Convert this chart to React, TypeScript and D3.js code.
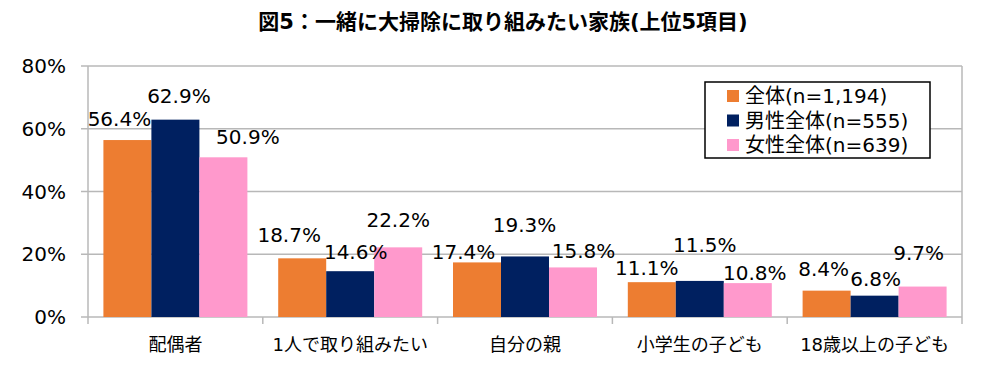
import React from "react";
import * as d3 from "d3";

const title = "図5：一緒に大掃除に取り組みたい家族(上位5項目)";
const categories = ["配偶者", "1人で取り組みたい", "自分の親", "小学生の子ども", "18歳以上の子ども"];
const seriesNames = ["全体(n=1,194)", "男性全体(n=555)", "女性全体(n=639)"];
const seriesColors = ["#ED7D31", "#002060", "#FF99CC"];
const totalValues = [56.4, 18.7, 17.4, 11.1, 8.4];
const maleValues = [62.9, 14.6, 19.3, 11.5, 6.8];
const femaleValues = [50.9, 22.2, 15.8, 10.8, 9.7];
const yTicks = [0, 20, 40, 60, 80];

// hand-placed data labels in the original: [dx from bar centre, baseline above bar top]
const labelNudge = [
  [[-8, -14], [3.5, -17], [24.5, -13]],
  [[-13, -16], [5.5, -12], [0, -20]],
  [[-13.5, -3], [-0.5, -24], [10.5, -9]],
  [[-5, -7], [5, -29], [7, -3]],
  [[-3, -15], [1, -10], [-4, -27]],
];

const W = 1004;
const H = 365;
const margin = { top: 66, right: 42, bottom: 48, left: 88 };
const FONT = '"DejaVu Sans", "Noto Sans CJK JP", sans-serif';
const GRID = "#b8b8b8";

export default function App() {
  const series = [totalValues, maleValues, femaleValues];
  const plotW = W - margin.left - margin.right;
  const plotBottom = H - margin.bottom;

  const x0 = d3
    .scaleBand<string>()
    .domain(categories)
    .range([margin.left, margin.left + plotW]);

  const x1 = d3
    .scaleBand<number>()
    .domain([0, 1, 2])
    .range([0, x0.bandwidth()])
    .paddingInner(0)
    .paddingOuter(0.321);

  const y = d3.scaleLinear().domain([0, 80]).range([plotBottom, margin.top]);

  return (
    <svg
      width={W}
      height={H}
      style={{ position: "absolute", left: 0, top: 0, background: "#fff" }}
      fontFamily={FONT}
    >
      <text
        x={503}
        y={29}
        textAnchor="middle"
        fontSize={21}
        fontWeight="bold"
        fill="#000"
      >
        {title}
      </text>

      {/* gridlines + y ticks */}
      {yTicks.map((t) => (
        <g key={t}>
          <line
            x1={margin.left - 7}
            x2={margin.left + plotW}
            y1={y(t)}
            y2={y(t)}
            stroke={GRID}
            strokeWidth={1.5}
          />
          <text
            x={66}
            y={y(t)}
            dy="0.36em"
            textAnchor="end"
            fontSize={20}
            fill="#000"
          >
            {t}%
          </text>
        </g>
      ))}

      {/* plot edges */}
      <line x1={margin.left} x2={margin.left} y1={y(80)} y2={plotBottom} stroke={GRID} strokeWidth={1.5} />
      <line
        x1={margin.left + plotW}
        x2={margin.left + plotW}
        y1={y(80)}
        y2={plotBottom}
        stroke={GRID}
        strokeWidth={1.5}
      />

      {/* category ticks */}
      {d3.range(categories.length + 1).map((i) => {
        const xx = margin.left + i * x0.step();
        return (
          <line key={i} x1={xx} x2={xx} y1={plotBottom} y2={plotBottom + 7} stroke={GRID} strokeWidth={1.5} />
        );
      })}

      {/* bars */}
      {categories.map((c, ci) => (
        <g key={c} transform={`translate(${x0(c)},0)`}>
          {series.map((vals, si) => (
            <rect
              key={si}
              x={x1(si)}
              y={y(vals[ci])}
              width={x1.bandwidth()}
              height={plotBottom - y(vals[ci])}
              fill={seriesColors[si]}
            />
          ))}
        </g>
      ))}

      {/* data labels */}
      {categories.map((c, ci) =>
        series.map((vals, si) => {
          const [dx, dy] = labelNudge[ci][si];
          const cx = (x0(c) as number) + (x1(si) as number) + x1.bandwidth() / 2;
          return (
            <text
              key={`${ci}-${si}`}
              x={cx + dx}
              y={y(vals[ci]) + dy}
              textAnchor="middle"
              fontSize={20}
              fill="#000"
            >
              {vals[ci].toFixed(1)}%
            </text>
          );
        })
      )}

      {/* category labels */}
      {categories.map((c) => (
        <text
          key={c}
          x={(x0(c) as number) + x0.bandwidth() / 2}
          y={351}
          textAnchor="middle"
          fontSize={18}
          fill="#000"
        >
          {c}
        </text>
      ))}

      {/* legend */}
      <g>
        <rect x={705} y={82} width={225} height={76} fill="#fff" stroke="#000" strokeWidth={1.5} />
        {seriesNames.map((name, i) => (
          <g key={name} transform={`translate(727,${96 + i * 24.5})`}>
            <rect x={0} y={-6} width={12} height={12} fill={seriesColors[i]} />
            <text x={18} y={0} dy="0.36em" fontSize={20} fill="#000">
              {name}
            </text>
          </g>
        ))}
      </g>
    </svg>
  );
}
